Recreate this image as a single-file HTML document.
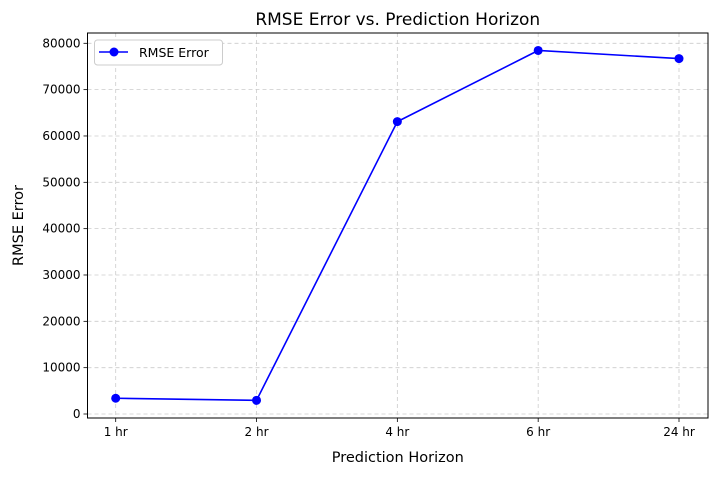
<!DOCTYPE html>
<html><head><meta charset="utf-8"><style>
body{margin:0;background:#fff;font-family:"Liberation Sans","DejaVu Sans",sans-serif}
svg text{font-family:"DejaVu Sans","Liberation Sans",sans-serif}
</style></head><body>
<svg id="chart" width="717" height="475" xmlns="http://www.w3.org/2000/svg"></svg>
<script>
const categories=["1 hr","2 hr","4 hr","6 hr","24 hr"];
const rmseValues=[3400,2950,63100,78450,76700];
const yTicks=[0,10000,20000,30000,40000,50000,60000,70000,80000];
const svg=document.getElementById('chart');
const NS="http://www.w3.org/2000/svg";
const L=87.5,R=708,T=33,B=418;
const x0=115.7,dx=(679-115.7)/4;
function xs(i){return x0+i*dx;}
function ys(v){return 414-v*(414-43.3)/80000;}
function mk(t,a,p){const e=document.createElementNS(NS,t);for(const k in a)e.setAttribute(k,a[k]);(p||svg).appendChild(e);return e;}
const grid=mk('g',{});
categories.forEach((c,i)=>{const X=xs(i);
 mk('line',{x1:X,x2:X,y1:T,y2:B,stroke:'#ccc','stroke-dasharray':'4,3','stroke-width':0.8},grid);
 mk('line',{x1:X,x2:X,y1:B,y2:B+4,stroke:'#000','stroke-width':0.8});
 const t=mk('text',{x:X,y:B+18,'text-anchor':'middle','font-size':12});t.textContent=c;
 });
yTicks.forEach(v=>{const Y=ys(v);
 mk('line',{x1:L,x2:R,y1:Y,y2:Y,stroke:'#ccc','stroke-dasharray':'4,3','stroke-width':0.8},grid);
 mk('line',{x1:L-4,x2:L,y1:Y,y2:Y,stroke:'#000','stroke-width':0.8});
 const t=mk('text',{x:L-7,y:Y+4,'text-anchor':'end','font-size':12});t.textContent=v;
 });
const frame=mk('rect',{x:L,y:T,width:R-L,height:B-T,fill:'none',stroke:'#000','stroke-width':1});

const line=mk('polyline',{points:rmseValues.map((v,i)=>xs(i)+','+ys(v)).join(' '),fill:'none',stroke:'#0000ff','stroke-width':1.6});

rmseValues.forEach((v,i)=>{const c=mk('circle',{cx:xs(i),cy:ys(v),r:4.5,fill:'#0000ff'});
 });
const title=mk('text',{x:(L+R)/2,y:25,'text-anchor':'middle','font-size':17});title.textContent='RMSE Error vs. Prediction Horizon';

const xt=mk('text',{x:(L+R)/2,y:462,'text-anchor':'middle','font-size':14.5});xt.textContent='Prediction Horizon';

const yt=mk('text',{x:23,y:(T+B)/2,'text-anchor':'middle','font-size':14.5,transform:'rotate(-90 23 '+(T+B)/2+')'});yt.textContent='RMSE Error';

const lg=mk('g',{});
mk('rect',{x:94.5,y:40,width:128,height:25,rx:3,fill:'#fff',stroke:'#ccc'},lg);
mk('line',{x1:99,x2:128,y1:52,y2:52,stroke:'#0000ff','stroke-width':1.6},lg);
mk('circle',{cx:114,cy:52,r:4.5,fill:'#0000ff'},lg);
const lt=mk('text',{x:139,y:57,'font-size':12.5},lg);lt.textContent='RMSE Error';

</script>
</body></html>
